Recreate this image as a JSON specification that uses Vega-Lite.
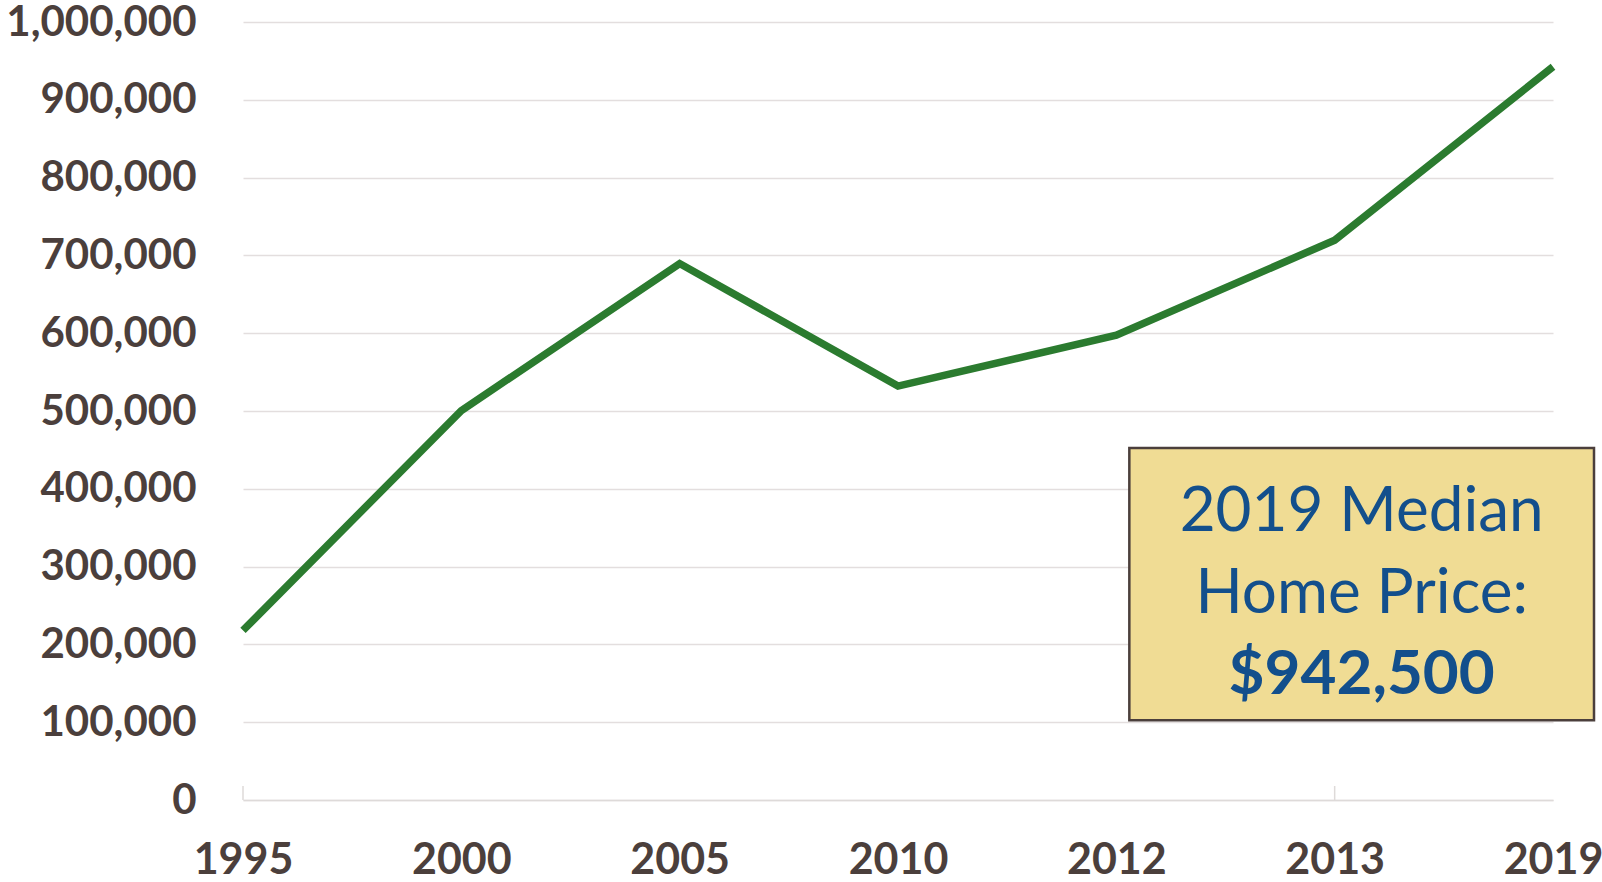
{
  "$schema": "https://vega.github.io/schema/vega-lite/v6.json",
  "width": 1310,
  "height": 778,
  "autosize": {"type": "none"},
  "padding": {"left": 243, "top": 22, "right": 49, "bottom": 82},
  "background": "white",
  "config": {
    "view": {"stroke": null},
    "font": "Lato"
  },
  "data": {
    "values": [
      {"year": "1995", "price": 218000},
      {"year": "2000", "price": 500500},
      {"year": "2005", "price": 689500},
      {"year": "2010", "price": 532000},
      {"year": "2012", "price": 597500},
      {"year": "2013", "price": 719500},
      {"year": "2019", "price": 942500}
    ]
  },
  "layer": [
    {
      "mark": {"type": "line", "color": "#2b7b2f", "strokeWidth": 7.5, "strokeJoin": "miter", "strokeCap": "butt"},
      "encoding": {
        "x": {
          "field": "year", "type": "ordinal", "sort": null,
          "scale": {"type": "point", "padding": 0},
          "axis": {
            "title": null, "labelAngle": 0, "ticks": false, "grid": false,
            "domainColor": "#dedad9", "domainWidth": 1.5,
            "labelFont": "Lato", "labelFontWeight": "bold", "labelFontSize": 43,
            "labelColor": "#4b3f3c", "labelPadding": 39, "labelLimit": 0
          }
        },
        "y": {
          "field": "price", "type": "quantitative",
          "scale": {"domain": [0, 1000000], "nice": false},
          "axis": {
            "title": null, "values": [0,100000,200000,300000,400000,500000,600000,700000,800000,900000,1000000],
            "format": ",d", "domain": false, "ticks": false,
            "gridColor": "#e3dede", "gridWidth": 1.5,
            "labelFont": "Lato", "labelFontWeight": "bold", "labelFontSize": 42,
            "labelColor": "#4b3f3c", "labelPadding": 47, "labelLimit": 0
          }
        }
      }
    },
    {
      "data": {"values": [{"year": "1995"}, {"year": "2013"}]},
      "mark": {"type": "rule", "color": "#dedad9", "strokeWidth": 1.5},
      "encoding": {
        "x": {"field": "year", "type": "ordinal"},
        "y": {"datum": 0},
        "y2": {"datum": 18000}
      }
    },
    {
      "data": {"values": [{"note": "box"}]},
      "mark": {"type": "rect", "fill": "#f0dc94", "stroke": "#4b3f3c", "strokeWidth": 2.5, "xOffset": 13, "x2Offset": 41},
      "encoding": {
        "x": {"datum": "2012"},
        "x2": {"datum": "2019"},
        "y": {"datum": 452500},
        "y2": {"datum": 102500}
      }
    },
    {
      "data": {"values": [
        {"line": "2019 Median", "pos": 346000},
        {"line": "Home Price:", "pos": 241000}
      ]},
      "mark": {"type": "text", "font": "Lato", "fontSize": 62, "color": "#134f8c", "align": "center", "baseline": "alphabetic", "xOffset": 27},
      "encoding": {
        "x": {"datum": "2013"},
        "y": {"field": "pos", "type": "quantitative"},
        "text": {"field": "line"}
      }
    },
    {
      "data": {"values": [
        {"line": "$942,500", "pos": 136000}
      ]},
      "mark": {"type": "text", "font": "Lato", "fontSize": 62, "fontWeight": "bold", "color": "#134f8c", "align": "center", "baseline": "alphabetic", "xOffset": 27},
      "encoding": {
        "x": {"datum": "2013"},
        "y": {"field": "pos", "type": "quantitative"},
        "text": {"field": "line"}
      }
    }
  ]
}
